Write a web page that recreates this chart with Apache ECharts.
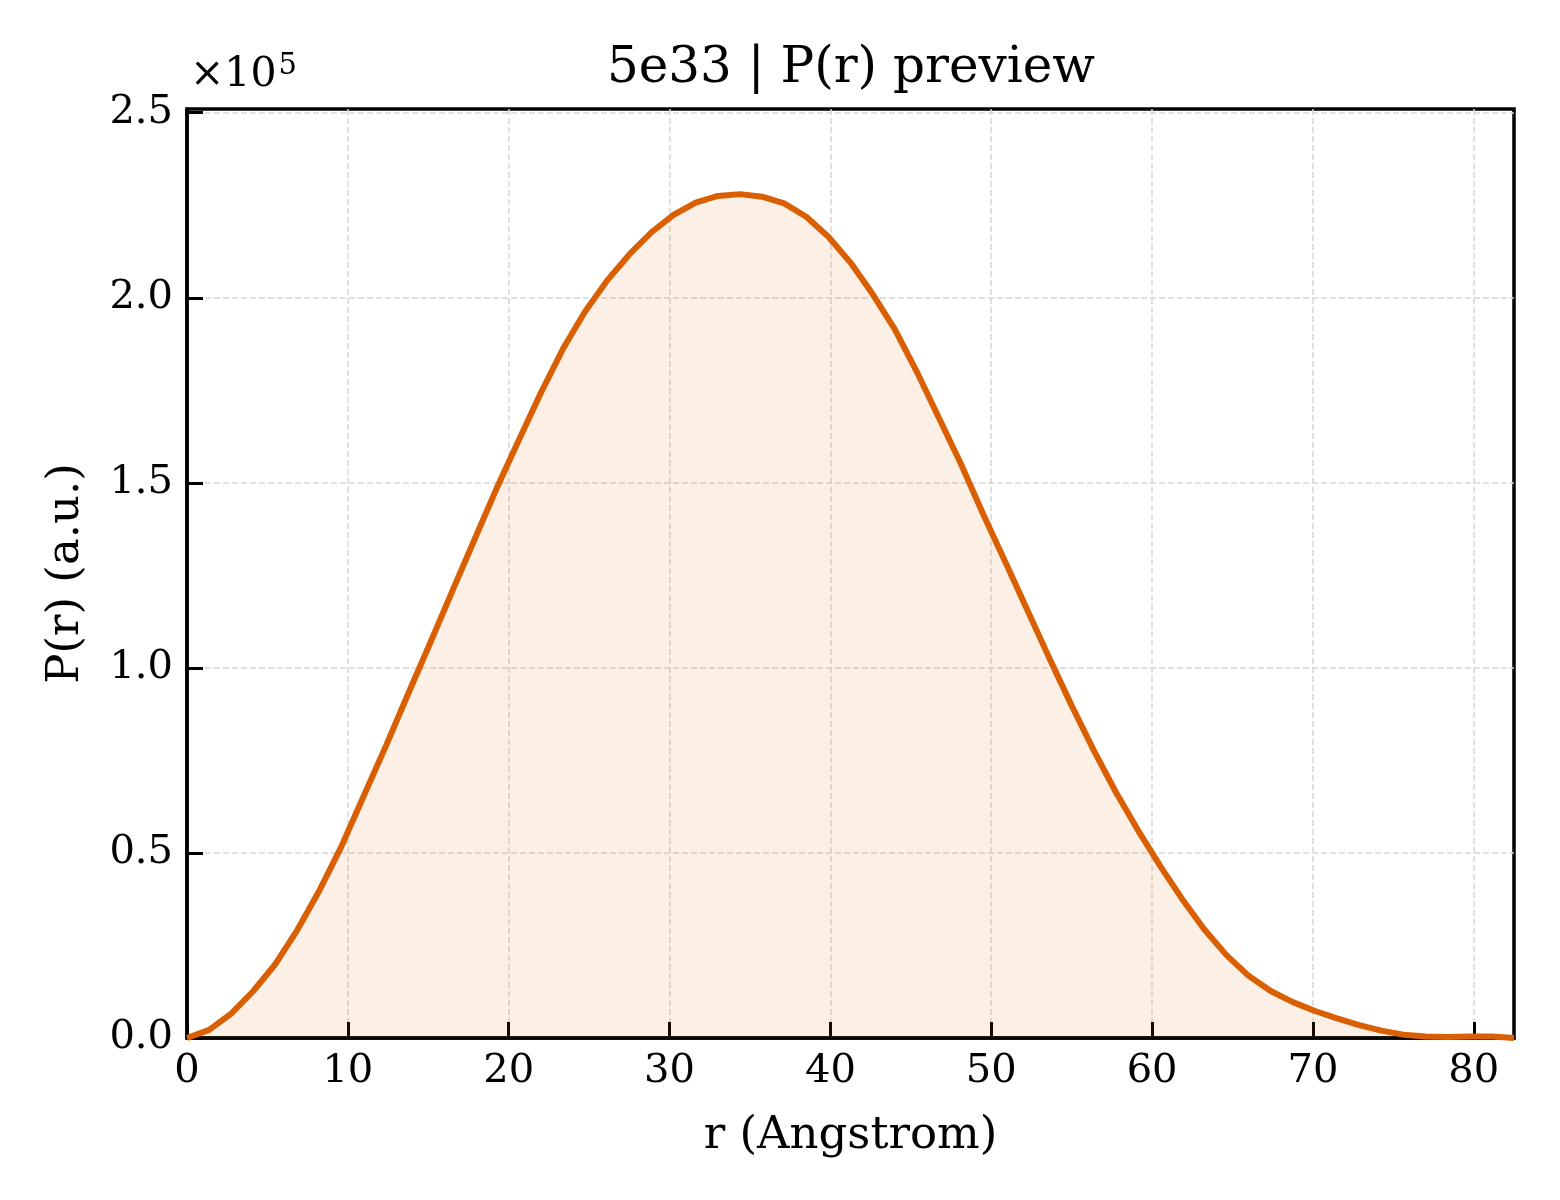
<!DOCTYPE html>
<html>
<head>
<meta charset="utf-8">
<script src="https://cdn.jsdelivr.net/npm/echarts@6/dist/echarts.min.js"></script>
<style>
html,body{margin:0;padding:0;background:#fff;}
#chart{width:1560px;height:1200px;}
</style>
</head>
<body>
<div id="chart"></div>
<script>
// r values (Angstrom)
const rValues = [0, 1.375, 2.75, 4.125, 5.5, 6.875, 8.25, 9.625, 11.0, 12.375,
  13.75, 15.125, 16.5, 17.875, 19.25, 20.625, 22.0, 23.375, 24.75, 26.125,
  27.5, 28.875, 30.25, 31.625, 33.0, 34.375, 35.75, 37.125, 38.5, 39.875,
  41.25, 42.625, 44.0, 45.375, 46.75, 48.125, 49.5, 50.875, 52.25, 53.625,
  55.0, 56.375, 57.75, 59.125, 60.5, 61.875, 63.25, 64.625, 66.0, 67.375,
  68.75, 70.125, 71.5, 72.875, 74.25, 75.625, 77.0, 78.375, 79.75, 81.125, 82.5];
// P(r) values (a.u.)
const prValues = [0, 2200, 6600, 12700, 20000, 29300, 40000, 52000, 65500, 79000,
  93000, 106800, 120800, 134700, 148500, 161500, 174300, 186200, 196300, 204700,
  211700, 217700, 222400, 225700, 227500, 228000, 227300, 225500, 221900, 216500,
  209500, 201000, 191500, 180000, 167500, 155000, 141500, 128600, 115600, 102500,
  89800, 77700, 66400, 56100, 46500, 37500, 29300, 22400, 16800, 12700,
  9700, 7300, 5300, 3500, 2000, 900, 400, 300, 400, 400, 0];
const xTicks = [0, 10, 20, 30, 40, 50, 60, 70, 80];
const yTicks = [0, 50000, 100000, 150000, 200000, 250000];
const titleText = '5e33 | P(r) preview';
const xName = 'r (Angstrom)';
const yName = 'P(r) (a.u.)';

const FONT = 'DejaVu Serif';
const lineColor = '#D95F02';
const seriesData = rValues.map((r, i) => [r, prValues[i]]);

const chart = echarts.init(document.getElementById('chart'), null, {renderer: 'canvas'});
const splitStyle = {color: '#d6d6d6', width: 1.5, type: [6, 3]};
chart.setOption({
  animation: false,
  backgroundColor: '#ffffff',
  grid: {left: 187, right: 46, top: 109, bottom: 162, show: true, borderColor: '#000', borderWidth: 3.5, backgroundColor: 'transparent'},
  graphic: [
    {type: 'text', x: 851, y: 69, style: {text: titleText, font: '50px "' + FONT + '"', fill: '#000', textAlign: 'center', textVerticalAlign: 'middle'}},
    {type: 'text', x: 190, y: 99, style: {text: '{a|×10}{b|5}', textVerticalAlign: 'bottom', rich: {a: {fontFamily: FONT, fontSize: 41, color: '#000'}, b: {fontFamily: FONT, fontSize: 29, color: '#000', verticalAlign: 'top', padding: [0, 0, 18, 2]}}}}
  ],
  xAxis: {
    type: 'value', min: 0, max: 82.5, interval: 10,
    name: xName, nameLocation: 'middle', nameGap: 76,
    nameTextStyle: {fontFamily: FONT, fontSize: 45, color: '#000'},
    axisLine: {show: true, onZero: false, lineStyle: {color: '#000', width: 3.5}},
    axisTick: {show: true, inside: true, length: 16, lineStyle: {color: '#000', width: 3}, customValues: xTicks},
    axisLabel: {fontFamily: FONT, fontSize: 40, color: '#000', margin: 14, customValues: xTicks, formatter: v => String(v)},
    splitLine: {show: true, lineStyle: splitStyle}
  },
  yAxis: {
    type: 'value', min: 0, max: 251000, interval: 50000,
    name: yName, nameLocation: 'middle', nameGap: 98, nameRotate: 90,
    nameTextStyle: {fontFamily: FONT, fontSize: 45, color: '#000'},
    axisLine: {show: true, onZero: false, lineStyle: {color: '#000', width: 3.5}},
    axisTick: {show: true, inside: true, length: 16, lineStyle: {color: '#000', width: 3}, customValues: yTicks},
    axisLabel: {fontFamily: FONT, fontSize: 40, color: '#000', margin: 14, customValues: yTicks, formatter: v => (v / 1e5).toFixed(1)},
    splitLine: {show: true, lineStyle: splitStyle}
  },
  series: [{
    type: 'line', data: seriesData, showSymbol: false, smooth: false,
    lineStyle: {color: lineColor, width: 6},
    areaStyle: {color: 'rgba(217,95,2,0.14)', origin: 'start'},
    itemStyle: {color: lineColor}
  }]
});
</script>
</body>
</html>
